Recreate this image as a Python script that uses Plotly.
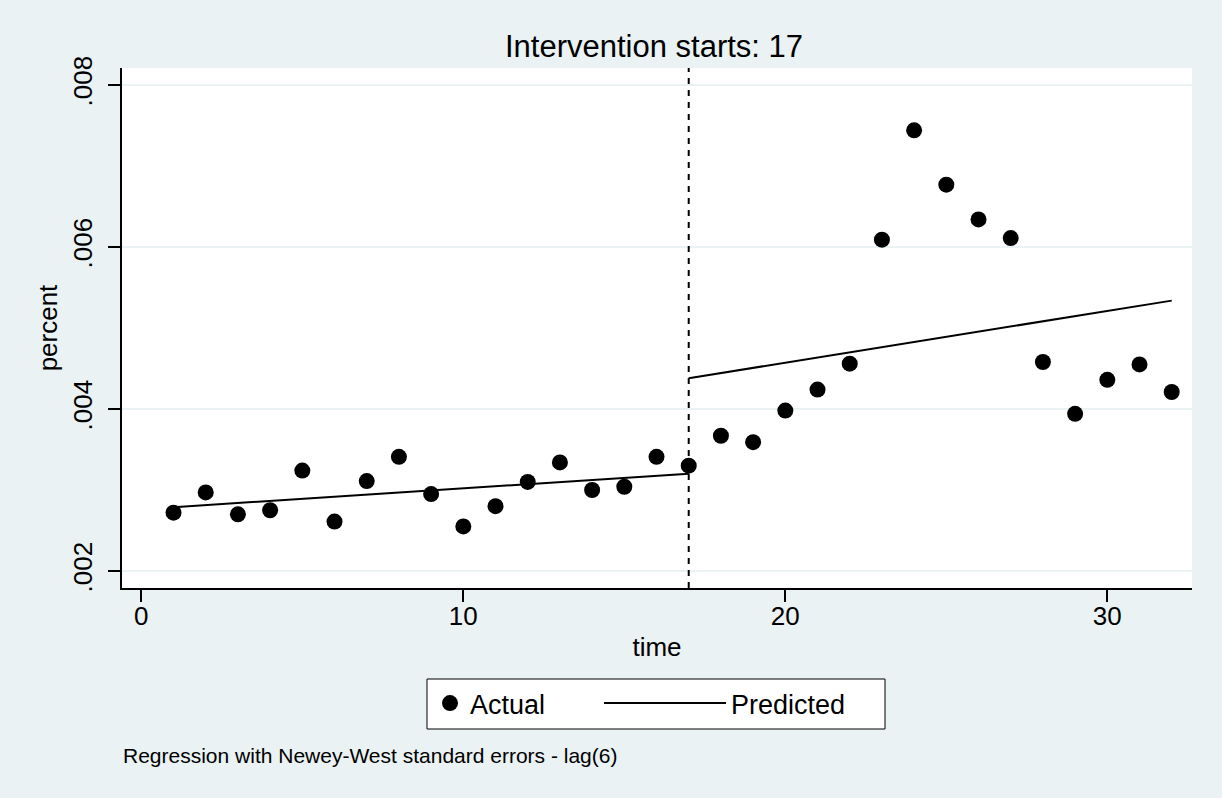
import plotly.graph_objects as go

# ---- data ----
time = list(range(1, 33))
actual = [0.00272, 0.00297, 0.00270, 0.00275, 0.00324, 0.00261, 0.00311, 0.00341,
          0.00295, 0.00255, 0.00280, 0.00310, 0.00334, 0.00300, 0.00304, 0.00341,
          0.00330, 0.00367, 0.00359, 0.00398, 0.00424, 0.00456, 0.00609, 0.00744,
          0.00677, 0.00634, 0.00611, 0.00458, 0.00394, 0.00436, 0.00455, 0.00421]
pred_time_pre = [1, 17]
pred_pre = [0.002788, 0.003200]
pred_time_post = [17, 32]
pred_post = [0.004380, 0.005338]
intervention = 17
y_ticks = [0.002, 0.004, 0.006, 0.008]
y_ticklabels = [".002", ".004", ".006", ".008"]
x_ticks = [0, 10, 20, 30]

BG = "#EAF2F3"
FONT = "Liberation Sans, Arial, sans-serif"

# plot-area geometry in pixels (for placing legend box / note)
L, R, T, B = 122, 1192, 68, 588
PW, PH = R - L, B - T


def px_x(px):
    return (px - L) / PW


def px_y(py):
    return (B - py) / PH


fig = go.Figure()
fig.add_trace(go.Scatter(x=time, y=actual, mode="markers", name="Actual",
                         marker=dict(color="black", size=16, line=dict(width=0)),
                         legend="legend"))
fig.add_trace(go.Scatter(x=pred_time_pre, y=pred_pre, mode="lines", name="Predicted",
                         line=dict(color="black", width=2), legendgroup="pred",
                         legend="legend2"))
fig.add_trace(go.Scatter(x=pred_time_post, y=pred_post, mode="lines", name="Predicted",
                         line=dict(color="black", width=2), legendgroup="pred",
                         showlegend=False, legend="legend2"))

fig.add_shape(type="line", xref="x", yref="paper", x0=intervention, x1=intervention,
              y0=0, y1=1, line=dict(color="black", width=2, dash="6px,6px"))

# legend frame
fig.add_shape(type="rect", xref="paper", yref="paper",
              x0=px_x(427), x1=px_x(885), y0=px_y(729), y1=px_y(679),
              fillcolor="white", line=dict(color="black", width=1), layer="below")

fig.update_layout(
    width=1222, height=798,
    margin=dict(l=L, r=1222 - R, t=T, b=798 - B),
    paper_bgcolor=BG, plot_bgcolor="white",
    font=dict(family=FONT, color="black", size=26),
    title=dict(text="Intervention starts: 17", x=654 / 1222, xanchor="center",
               yref="container", y=1 - 46 / 798, yanchor="middle",
               font=dict(size=31)),
    xaxis=dict(range=[-0.6, 32.63], tickmode="array", tickvals=x_ticks,
               showgrid=False, zeroline=False, showline=True, linecolor="black",
               linewidth=1.5, ticks="outside", ticklen=12, tickwidth=1.5,
               tickcolor="black", tickfont=dict(size=26), ticklabelstandoff=-8,
               title=dict(text="time", font=dict(size=26), standoff=8)),
    yaxis=dict(range=[0.00179, 0.00821], tickmode="array", tickvals=y_ticks,
               ticktext=y_ticklabels, tickangle=-90,
               showgrid=True, gridcolor=BG, gridwidth=2, zeroline=False,
               showline=True, linecolor="black", linewidth=1.5,
               ticks="outside", ticklen=12, tickwidth=1.5, tickcolor="black",
               tickfont=dict(size=26), ticklabelstandoff=6,
               title=dict(text="percent", font=dict(size=26), standoff=3)),
    legend=dict(orientation="h", x=px_x(430), xanchor="left",
                y=px_y(679), yanchor="top",
                bgcolor="rgba(0,0,0,0)", borderwidth=0,
                font=dict(size=27), itemwidth=30),
    legend2=dict(orientation="h", x=px_x(599), xanchor="left",
                 y=px_y(679), yanchor="top",
                 bgcolor="rgba(0,0,0,0)", borderwidth=0,
                 font=dict(size=27), itemwidth=122),
    showlegend=True,
)

fig.add_annotation(text="Regression with Newey-West standard errors - lag(6)",
                   xref="paper", yref="paper", x=px_x(121), y=px_y(755),
                   xanchor="left", yanchor="middle", showarrow=False,
                   font=dict(size=21))

fig.write_html("out.html",
               config={"displayModeBar": False},
               post_script="document.body.style.margin='0';"
                           "document.body.style.background='" + BG + "';")
